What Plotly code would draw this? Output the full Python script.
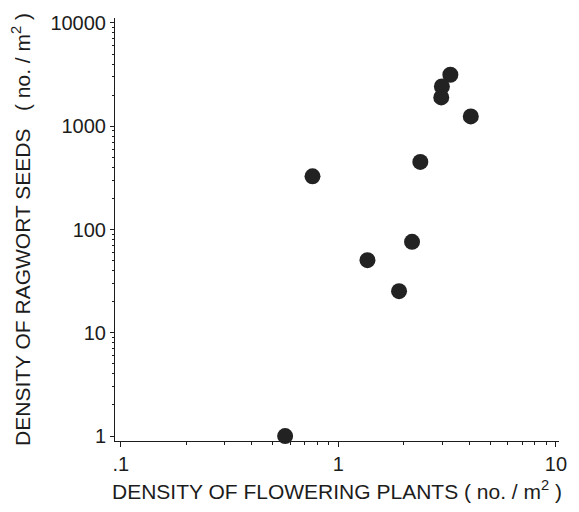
import plotly.graph_objects as go

flowering_density = [3.27, 2.99, 2.97, 4.06, 2.38, 0.76, 2.18, 1.36, 1.90, 0.569]
seed_density = [3150, 2425, 1900, 1244, 451, 327, 76, 50.5, 25.3, 1.0]

x_tickvals = [0.1, 1, 10]
x_ticktext = [".1", "1", "10"]
y_tickvals = [1, 10, 100, 1000, 10000]
y_ticktext = ["1", "10", "100", "1000", "10000"]

minor_x = [m * 10 ** e for e in (-1, 0) for m in range(2, 10)]
minor_y = [m * 10 ** e for e in (0, 1, 2, 3) for m in range(2, 10)]

FONT = "Liberation Sans, Arial, sans-serif"
INK = "#1c1c1c"

fig = go.Figure()
fig.add_trace(go.Scatter(
    x=flowering_density, y=seed_density, mode="markers",
    marker=dict(size=16, color="#222222", line=dict(width=0)),
    showlegend=False, cliponaxis=False,
))

fig.update_layout(
    width=579, height=512,
    margin=dict(l=115, r=16, t=18, b=70),
    paper_bgcolor="white", plot_bgcolor="white",
    font=dict(family=FONT, color=INK, size=20),
)
fig.update_xaxes(
    type="log", range=[-1.027, 1.014],
    tickmode="array", tickvals=x_tickvals, ticktext=x_ticktext,
    showgrid=False, zeroline=False,
    showline=True, linecolor=INK, linewidth=1,
    ticks="outside", ticklen=5, tickwidth=1, tickcolor=INK,
    minor=dict(tickmode="array", tickvals=minor_x, ticks="outside", ticklen=3, tickwidth=1, tickcolor=INK, showgrid=False),
    tickfont=dict(size=20),
    title=dict(text="DENSITY OF FLOWERING PLANTS ( no. / m<sup>2</sup> )", font=dict(size=21), standoff=10),
)
fig.update_yaxes(
    type="log", range=[-0.048, 4.048],
    tickmode="array", tickvals=y_tickvals, ticktext=y_ticktext,
    showgrid=False, zeroline=False,
    showline=True, linecolor=INK, linewidth=1,
    ticks="outside", ticklen=4, tickwidth=1, tickcolor=INK,
    minor=dict(tickmode="array", tickvals=minor_y, ticks="outside", ticklen=2, tickwidth=1, tickcolor=INK, showgrid=False),
    tickfont=dict(size=20),
    title=dict(text="DENSITY OF RAGWORT SEEDS \u00a0\u00a0( no. / m<sup>2</sup> )", font=dict(size=21), standoff=14),
)

fig.write_html("out.html")
